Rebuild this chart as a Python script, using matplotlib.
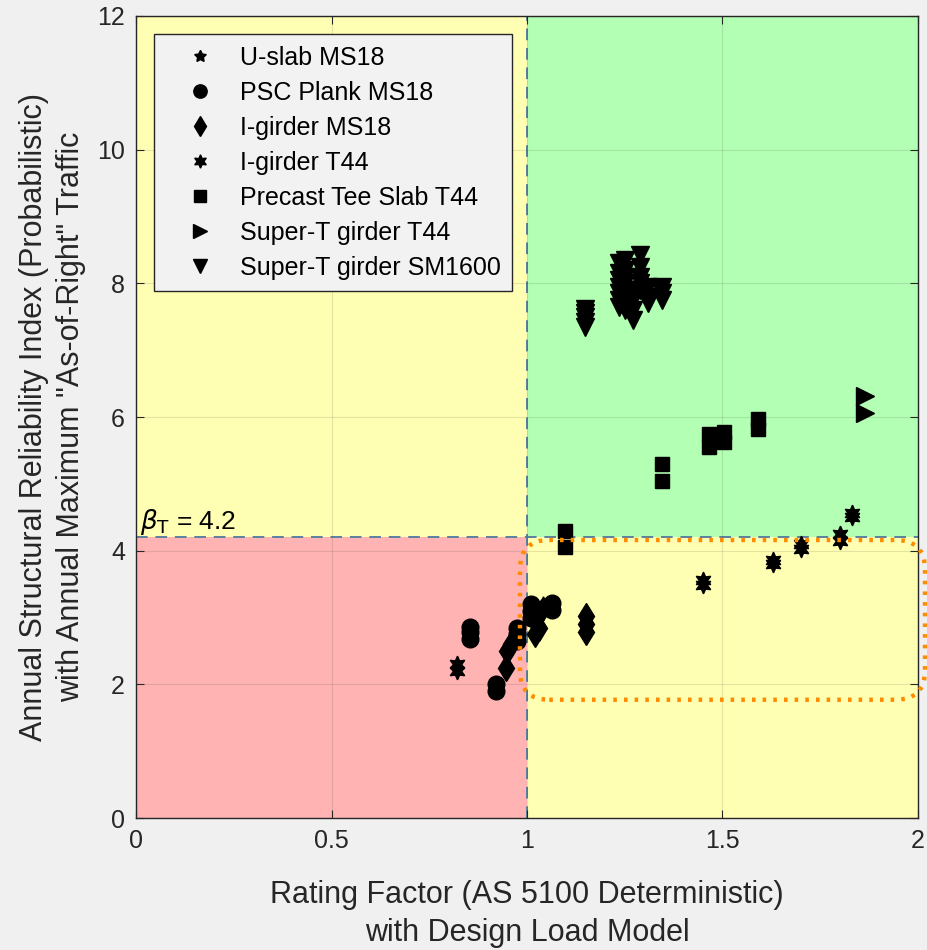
import matplotlib
matplotlib.use("Agg")
import matplotlib.pyplot as plt
from matplotlib.patches import Rectangle, FancyBboxPatch

plt.rcParams['font.family'] = ['Liberation Sans', 'DejaVu Sans']

# data
uslab_x = [1.02, 1.03, 1.035, 1.04]
uslab_y = [2.95, 3.05, 3.15, 3.2]

plank_x = [0.855, 0.855, 0.855, 0.92, 0.92, 0.975, 0.975, 0.975, 1.01, 1.01, 1.01, 1.065, 1.065]
plank_y = [2.68, 2.78, 2.86, 1.9, 2.0, 2.65, 2.75, 2.85, 3.0, 3.1, 3.2, 3.12, 3.22]

igms_x = [0.945, 0.95, 0.96, 1.02, 1.03, 1.03, 1.15, 1.15, 1.15]
igms_y = [2.25, 2.5, 2.6, 2.75, 2.85, 3.05, 2.78, 2.9, 3.02]

igt_x = [0.82, 0.82, 1.45, 1.45, 1.63, 1.63, 1.70, 1.70, 1.80, 1.80, 1.83, 1.83]
igt_y = [2.2, 2.3, 3.48, 3.56, 3.8, 3.86, 4.02, 4.1, 4.15, 4.25, 4.5, 4.56]

tee_x = [1.097, 1.097, 1.345, 1.345, 1.465, 1.465, 1.504, 1.504, 1.59, 1.59]
tee_y = [4.05, 4.3, 5.05, 5.3, 5.55, 5.75, 5.62, 5.78, 5.82, 5.97]

stt_x = [1.865, 1.865]
stt_y = [6.06, 6.32]

stsm_x = [1.148] * 5 + [1.235] * 7 + [1.25] * 7 + [1.27] * 4 + [1.29] * 5 + [1.31] * 3 + [1.345] * 3
stsm_y = [7.35, 7.42, 7.5, 7.56, 7.62,
          7.65, 7.75, 7.85, 7.95, 8.05, 8.15, 8.3,
          7.6, 7.8, 7.9, 8.0, 8.1, 8.2, 8.35,
          7.45, 7.6, 7.75, 7.9,
          7.9, 8.0, 8.1, 8.25, 8.42,
          7.7, 7.8, 7.95,
          7.75, 7.85, 7.95]

beta_t = 4.2
rf_limit = 1.0

fig = plt.figure(figsize=(9.28, 9.5), dpi=100, facecolor='#F0F0F0')
ax = fig.add_axes([0.1466, 0.1389, 0.8426, 0.8443])
ax.set_xlim(0, 2)
ax.set_ylim(0, 12)

# zones
ax.add_patch(Rectangle((0, 0), rf_limit, beta_t, color='#FFB3B3', zorder=0, lw=0))
ax.add_patch(Rectangle((0, beta_t), rf_limit, 12 - beta_t, color='#FFFFB3', zorder=0, lw=0))
ax.add_patch(Rectangle((rf_limit, beta_t), 2 - rf_limit, 12 - beta_t, color='#B3FFB3', zorder=0, lw=0))
ax.add_patch(Rectangle((rf_limit, 0), 2 - rf_limit, beta_t, color='#FFFFB3', zorder=0, lw=0))

ax.grid(True, color='#262626', alpha=0.12, lw=0.8)
ax.set_axisbelow(False)

ax.axhline(beta_t, color='#5B7FA0', ls=(0, (6, 4)), lw=1.4, zorder=2)
ax.axvline(rf_limit, color='#5B7FA0', ls=(0, (6, 4)), lw=1.4, zorder=2)

ms = dict(ls='none', color='k', mec='k', zorder=4)
ax.plot(uslab_x, uslab_y, marker=(5, 1, 0), ms=11, label='U-slab MS18', **ms)
ax.plot(plank_x, plank_y, marker='o', ms=12, label='PSC Plank MS18', **ms)
ax.plot(igms_x, igms_y, marker='d', ms=13, label='I-girder MS18', **ms)
ax.plot(igt_x, igt_y, marker=(6, 1, 0), ms=12, label='I-girder T44', **ms)
ax.plot(tee_x, tee_y, marker='s', ms=10, label='Precast Tee Slab T44', **ms)
ax.plot(stt_x, stt_y, marker='>', ms=13, label='Super-T girder T44', **ms)
ax.plot(stsm_x, stsm_y, marker='v', ms=13, label='Super-T girder SM1600', **ms)

# highlighted region
box = FancyBboxPatch((0.982, 1.77), 2.018 - 0.982, 4.16 - 1.77,
                     boxstyle='round,pad=0,rounding_size=0.075', mutation_aspect=5.85,
                     fill=False, ec='#FF8C00', lw=3.2, ls=(0, (0.8, 1.6)),
                     clip_on=False, zorder=5)
ax.add_patch(box)

ax.text(0.01, 4.2, r'$\beta_{\mathrm{T}}$ = 4.2', fontsize=19, color='k', va='bottom', zorder=6)

ax.set_xticks([0, 0.5, 1, 1.5, 2])
ax.set_xticklabels(['0', '0.5', '1', '1.5', '2'])
ax.set_yticks([0, 2, 4, 6, 8, 10, 12])
ax.tick_params(direction='in', top=True, right=True, labelsize=18, colors='#262626',
               length=6, pad=8)
for s in ax.spines.values():
    s.set_color('#262626')
    s.set_linewidth(1.0)

ax.set_xlabel('Rating Factor (AS 5100 Deterministic)\nwith Design Load Model',
              fontsize=22, color='#262626', labelpad=19, linespacing=1.35)
ax.set_ylabel('Annual Structural Reliability Index (Probabilistic)\nwith Annual Maximum "As-of-Right" Traffic',
              fontsize=22, color='#262626', labelpad=8, linespacing=1.3)

leg = ax.legend(loc='upper left', bbox_to_anchor=(0.023, 0.977), fontsize=18,
                frameon=True, fancybox=False, borderpad=0.45, labelspacing=0.44,
                handletextpad=0.2, handlelength=2.8, borderaxespad=0, markerscale=0.8)
leg.get_frame().set_facecolor('#F2F2F2')
leg.get_frame().set_edgecolor('#262626')
leg.get_frame().set_alpha(1)
leg.get_frame().set_linewidth(1.0)
leg.set_zorder(7)

fig.savefig('out.png', dpi=100, facecolor=fig.get_facecolor())
